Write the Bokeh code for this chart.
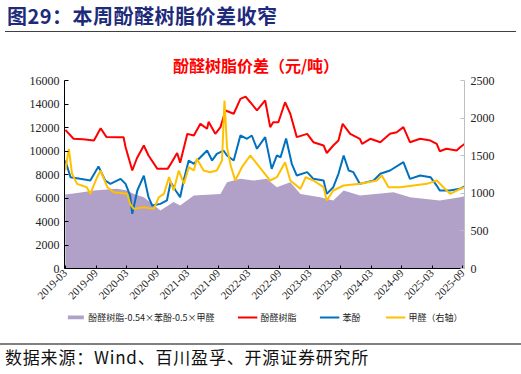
import pandas as pd
from math import pi
from bokeh.plotting import figure
from bokeh.models import (Range1d, LinearAxis, FixedTicker, DatetimeTickFormatter,
                          Legend, LegendItem, Div)
from bokeh.layouts import column
from bokeh.embed import file_html
from bokeh.resources import INLINE

HEADER = "图29：本周酚醛树脂价差收窄"
CHART_TITLE = "酚醛树脂价差（元/吨）"
SOURCE = "数据来源：Wind、百川盈孚、开源证券研究所"
LEGEND_LABELS = ["酚醛树脂-0.54×苯酚-0.5×甲醛", "酚醛树脂", "苯酚", "甲醛（右轴）"]
X_TICK_LABELS = ["2019-03", "2019-09", "2020-03", "2020-09", "2021-03", "2021-09", "2022-03",
                 "2022-09", "2023-03", "2023-09", "2024-03", "2024-09", "2025-03", "2025-09"]
LEFT_TICKS = [0, 2000, 4000, 6000, 8000, 10000, 12000, 14000, 16000]
RIGHT_TICKS = [0, 500, 1000, 1500, 2000, 2500]
X_START = "2019-02-24"
X_END = "2025-09-10"

# 酚醛树脂 (left axis)
resin_dates = ["2019-03-01", "2019-04-19", "2019-06-15", "2019-08-19", "2019-09-28", "2019-11-01",
               "2020-01-01", "2020-02-12", "2020-02-24", "2020-04-04", "2020-05-01", "2020-06-12",
               "2020-07-10", "2020-09-01", "2020-11-01", "2020-11-19", "2020-12-28", "2021-01-15",
               "2021-02-27", "2021-04-07", "2021-05-16", "2021-06-25", "2021-07-04", "2021-08-13",
               "2021-09-13", "2021-10-13", "2021-12-01", "2022-01-10", "2022-02-10", "2022-03-10",
               "2022-04-19", "2022-06-07", "2022-07-07", "2022-07-25", "2022-08-25", "2022-10-04",
               "2022-11-04", "2022-12-13", "2023-02-13", "2023-03-22", "2023-05-22", "2023-06-10",
               "2023-07-19", "2023-08-19", "2023-09-13", "2023-10-28", "2023-12-25", "2024-01-07",
               "2024-02-25", "2024-04-25", "2024-06-22", "2024-08-01", "2024-09-10", "2024-10-19",
               "2024-12-19", "2025-02-19", "2025-03-28", "2025-04-15", "2025-05-25", "2025-07-25",
               "2025-08-15", "2025-09-10"]
resin = [11800, 11040, 11000, 10900, 11940, 11200,
         11175, 11175, 10320, 8340, 9360, 10470,
         9620, 8480, 8480, 8880, 9830, 9000,
         11460, 11320, 12310, 11890, 12480, 11460,
         12030, 13450, 13170, 14440, 14630, 14150,
         13450, 14300, 12030, 12450, 12450, 14150,
         13170, 11180, 11460, 10750, 10470, 9830,
         10470, 10890, 12310, 11460, 11040, 10610,
         11040, 10750, 11460, 11600, 12030, 10750,
         11040, 10890, 10610, 9980, 10190, 10040,
         10320, 10600]

# 苯酚 (left axis)
phenol_dates = ["2019-03-01", "2019-04-01", "2019-05-28", "2019-07-28", "2019-09-15", "2019-10-25",
                "2019-11-25", "2020-01-25", "2020-02-24", "2020-03-22", "2020-04-04", "2020-05-04",
                "2020-06-12", "2020-07-10", "2020-08-01", "2020-09-19", "2020-10-28", "2020-11-19",
                "2020-12-19", "2021-01-15", "2021-02-05", "2021-03-07", "2021-04-07", "2021-05-16",
                "2021-06-25", "2021-07-25", "2021-08-22", "2021-10-01", "2021-10-22", "2021-12-01",
                "2022-01-10", "2022-02-19", "2022-03-19", "2022-04-19", "2022-06-07", "2022-07-16",
                "2022-08-16", "2022-09-07", "2022-10-10", "2022-11-13", "2022-12-13", "2023-02-13",
                "2023-03-22", "2023-05-22", "2023-06-10", "2023-07-19", "2023-08-19", "2023-09-19",
                "2023-10-19", "2023-11-16", "2023-12-25", "2024-03-16", "2024-04-25", "2024-06-22",
                "2024-09-10", "2024-10-19", "2024-12-19", "2025-02-19", "2025-03-28", "2025-04-15",
                "2025-06-13", "2025-08-15", "2025-09-10"]
phenol = [9190, 7770, 7630, 7490, 8680, 7490,
          7200, 7630, 7200, 6210, 4650, 6640,
          7900, 6070, 5360, 5500, 5790, 7350,
          6640, 6070, 7490, 9190, 8910, 9470,
          10040, 9190, 9760, 10040, 9620, 9190,
          11320, 11040, 11320, 10190, 11180, 8480,
          9620, 9470, 11060, 8910, 7910, 8200,
          7630, 7490, 6350, 6920, 8060, 9620,
          8340, 8200, 7200, 7490, 8060, 8340,
          9050, 7630, 7910, 7770, 7060, 6640,
          6640, 6780, 6980]

# 甲醛 (right axis)
formal_dates = ["2019-03-01", "2019-03-22", "2019-04-10", "2019-05-10", "2019-07-07", "2019-07-28",
                "2019-09-07", "2019-09-28", "2019-11-07", "2019-12-16", "2020-03-04", "2020-03-22",
                "2020-04-13", "2020-06-12", "2020-08-10", "2020-09-10", "2020-10-10", "2020-11-10",
                "2020-12-07", "2021-01-07", "2021-02-07", "2021-03-07", "2021-04-07", "2021-04-25",
                "2021-06-04", "2021-07-13", "2021-08-22", "2021-09-22", "2021-10-07", "2021-10-22",
                "2021-11-13", "2021-12-10", "2022-01-19", "2022-03-10", "2022-04-19", "2022-05-28",
                "2022-07-07", "2022-08-16", "2022-10-04", "2022-11-04", "2023-01-04", "2023-02-04",
                "2023-03-22", "2023-05-22", "2023-06-10", "2023-07-19", "2023-09-19", "2023-12-25",
                "2024-04-04", "2024-05-04", "2024-06-13", "2024-08-22", "2024-11-10", "2025-01-28",
                "2025-03-28", "2025-05-07", "2025-06-16", "2025-08-15", "2025-09-10"]
formal = [1303, 1591, 1259, 1126, 1081, 993,
          1214, 1303, 1081, 1015, 993, 860,
          793, 815, 793, 948, 993, 1215,
          1037, 1303, 1126, 1347, 1303, 1458,
          1303, 1281, 1303, 1436, 2234, 1613,
          1370, 1170, 1347, 1503, 1392, 1281,
          1170, 1214, 1414, 1170, 1059, 1214,
          1170, 1081, 904, 1037, 1104, 1126,
          1170, 1237, 1081, 1081, 1104, 1126,
          1170, 1081, 993, 1059, 1080]

# 价差 (left axis, area)
spread_dates = ["2019-03-01", "2019-05-01", "2019-08-19", "2020-01-04", "2020-03-04", "2020-04-13",
                "2020-06-12", "2020-09-19", "2020-12-07", "2021-01-15", "2021-04-07", "2021-09-13",
                "2021-10-22", "2022-01-10", "2022-03-28", "2022-06-16", "2022-08-16", "2022-11-04",
                "2023-01-04", "2023-05-01", "2023-07-19", "2023-09-19", "2023-12-25", "2024-07-13",
                "2024-10-19", "2025-04-15", "2025-08-15", "2025-09-10"]
spread = [6300, 6400, 6640, 6780, 6640, 6350,
          6070, 4940, 5650, 5360, 6210, 6350,
          7350, 7630, 7490, 7630, 6920, 7350,
          6350, 6070, 5780, 6640, 6210, 6500,
          6070, 5790, 6070, 6150]

PURPLE = "#B1A0C7"
RED = "#FF0000"
BLUE = "#0070C0"
YELLOW = "#FFC000"
SERIF = "Liberation Serif"
CJK = "Noto Sans CJK SC"

W = 521

# ---------- header ----------
header_html = (
    f'<div style="position:relative;width:{W}px;height:74px;">'
    f'<div style="position:absolute;left:7px;top:6px;white-space:nowrap;font-family:\'{CJK}\';'
    f'font-weight:bold;font-size:20px;line-height:20px;letter-spacing:0.5px;color:#1E2B7B;">{HEADER}</div>'
    f'<div style="position:absolute;left:5px;top:31px;width:511px;border-top:1.5px solid #404040;"></div>'
    f'<div style="position:absolute;left:0px;top:57px;width:512px;text-align:center;white-space:nowrap;'
    f'font-family:\'{CJK}\';font-weight:bold;font-size:16px;line-height:17px;color:{RED};">{CHART_TITLE}</div>'
    f'</div>'
)
hdr = Div(text=header_html, width=W, height=74, margin=0)

area_kw = dict(fill_color=PURPLE)
red_kw = dict(line_color=RED, line_width=2)
blue_kw = dict(line_color=BLUE, line_width=2)
yel_kw = dict(line_color=YELLOW, line_width=2)


def draw_series(fig, yel_range=None):
    extra = {} if yel_range is None else {"y_range_name": yel_range}
    ra_ = fig.varea(x=pd.to_datetime(spread_dates), y1=0, y2=spread, **area_kw)
    rr_ = fig.line(x=pd.to_datetime(resin_dates), y=resin, **red_kw)
    rb_ = fig.line(x=pd.to_datetime(phenol_dates), y=phenol, **blue_kw)
    ry_ = fig.line(x=pd.to_datetime(formal_dates), y=formal, **extra, **yel_kw)
    return ra_, rr_, rb_, ry_


# ---------- main chart ----------
p = figure(width=W, height=234, x_axis_type="datetime",
           x_range=Range1d(pd.Timestamp(X_START), pd.Timestamp(X_END)),
           y_range=Range1d(0, 16000), toolbar_location=None, output_backend="svg",
           min_border_left=64, min_border_right=57, min_border_top=6, min_border_bottom=40,
           title=None, outline_line_color=None)
p.grid.visible = False
p.extra_y_ranges = {"right": Range1d(0, 2500)}
draw_series(p, "right")

tick_ms = [pd.Timestamp(t + "-01").value // 10**6 for t in X_TICK_LABELS]
xa = p.xaxis[0]
xa.ticker = FixedTicker(ticks=tick_ms)
xa.formatter = DatetimeTickFormatter(days="%Y-%m", months="%Y-%m", years="%Y-%m")
xa.major_label_orientation = pi / 4
xa.major_tick_in = 3
xa.major_tick_out = 0
xa.minor_tick_line_color = None
xa.axis_line_color = "#000000"
xa.major_tick_line_color = "#000000"
xa.major_label_text_font = SERIF
xa.major_label_text_font_size = "11px"
xa.major_label_text_color = "#222222"
xa.major_label_standoff = 3

ya = p.yaxis[0]
ya.ticker = FixedTicker(ticks=LEFT_TICKS)
ya.major_tick_in = 4
ya.major_tick_out = 0
ya.minor_tick_line_color = None
ya.axis_line_color = "#000000"
ya.major_tick_line_color = "#000000"
ya.major_label_text_font = SERIF
ya.major_label_text_font_size = "12px"
ya.major_label_text_color = "#222222"
ya.major_label_standoff = 5

ra = LinearAxis(y_range_name="right", ticker=FixedTicker(ticks=RIGHT_TICKS))
ra.major_tick_in = 4
ra.major_tick_out = 0
ra.minor_tick_line_color = None
ra.axis_line_color = "#BFBFBF"
ra.major_tick_line_color = "#BFBFBF"
ra.major_label_text_font = SERIF
ra.major_label_text_font_size = "12px"
ra.major_label_text_color = "#222222"
ra.major_label_standoff = 6
p.add_layout(ra, "right")

# ---------- legend strip (same series, ranges set so nothing but the legend shows) ----------
lf = figure(width=W, height=18, x_axis_type=None, y_axis_type=None, toolbar_location=None,
            x_range=Range1d(0, 1), y_range=Range1d(-2, -1),
            output_backend="svg", min_border=0, title=None, outline_line_color=None)
lf.grid.visible = False
l_area, l_red, l_blue, l_yel = draw_series(lf)
legend = Legend(items=[LegendItem(label=LEGEND_LABELS[0], renderers=[l_area]),
                       LegendItem(label=LEGEND_LABELS[1], renderers=[l_red]),
                       LegendItem(label=LEGEND_LABELS[2], renderers=[l_blue]),
                       LegendItem(label=LEGEND_LABELS[3], renderers=[l_yel])],
                orientation="horizontal", location="center",
                label_text_font=CJK, label_text_font_size="9px", label_text_color="#222222",
                glyph_width=20, glyph_height=5, label_standoff=3, spacing=23,
                padding=1, margin=0, border_line_color=None, background_fill_alpha=0)
lf.add_layout(legend, "center")

# ---------- footer ----------
footer_html = (
    f'<div style="position:relative;width:{W}px;height:48px;">'
    f'<div style="position:absolute;left:0px;top:17px;width:{W}px;border-top:2px solid #808080;"></div>'
    f'<div style="position:absolute;left:5px;top:22px;white-space:nowrap;font-family:\'{CJK}\';'
    f'font-size:17px;line-height:18px;letter-spacing:0.8px;color:#111111;">{SOURCE}</div>'
    f'</div>'
)
ftr = Div(text=footer_html, width=W, height=48, margin=0)

layout = column(hdr, p, lf, ftr, spacing=0)
open("out.html", "w").write(file_html(layout, INLINE))
